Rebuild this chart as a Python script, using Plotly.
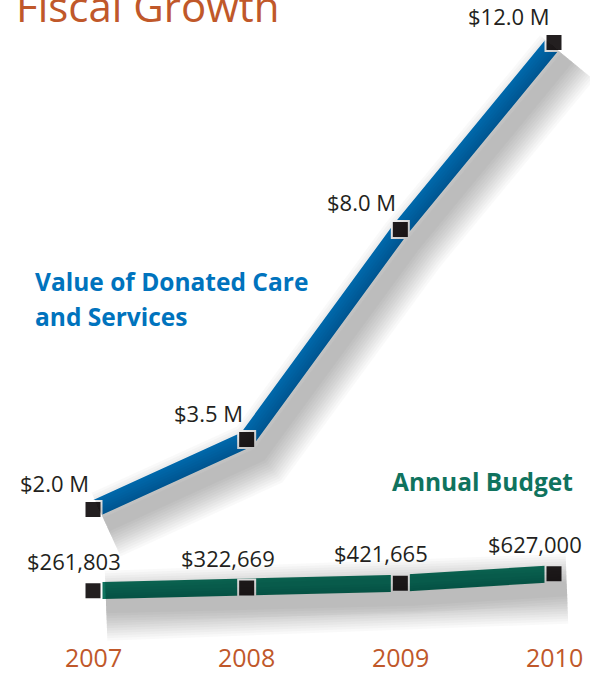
import plotly.graph_objects as go

years = [2007, 2008, 2009, 2010]
donated = [2.0e6, 3.5e6, 8.0e6, 12.0e6]
donated_labels = ["$2.0 M", "$3.5 M", "$8.0 M", "$12.0 M"]
budget = [261803, 322669, 421665, 627000]
budget_labels = ["$261,803", "$322,669", "$421,665", "$627,000"]

W, H = 590, 674
BLUE = "#0073bd"
GREEN = "#10735e"
ORANGE = "#c0582a"
INK = "#231f20"
FONT = "Open Sans"

# axis ranges chosen so 2007 sits at x=93px, 2010 at 554px, $0 at y=603px
px_per_year = (554 - 93) / 3
px_per_dollar = 467 / 10e6
xr = [2007 - 93 / px_per_year, 2007 + (W - 93) / px_per_year]
yr = [-(H - 603) / px_per_dollar, 603 / px_per_dollar]

# shadow axes: same data, shifted a few px right and down
sx, sy = 13, 15
xr2 = [xr[0] - sx / px_per_year, xr[1] - sx / px_per_year]
yr2 = [yr[0] + sy / px_per_dollar, yr[1] + sy / px_per_dollar]

fig = go.Figure()

# soft drop shadow: stacked translucent strokes
for w in range(70, 12, -5):
    for vals in [donated, budget]:
        fig.add_trace(go.Scatter(x=years, y=vals, mode="lines", xaxis="x2", yaxis="y2",
                                 line=dict(color="rgba(0,0,0,0.022)", width=w),
                                 hoverinfo="skip", showlegend=False))

fig.add_trace(go.Scatter(x=years, y=budget, mode="lines",
                         line=dict(color=GREEN, width=17), showlegend=False))
fig.add_trace(go.Scatter(x=years, y=donated, mode="lines",
                         line=dict(color=BLUE, width=17), showlegend=False))
for vals in [donated, budget]:
    fig.add_trace(go.Scatter(x=years, y=vals, mode="markers",
                             marker=dict(symbol="square", size=17, color=INK,
                                         line=dict(color="white", width=2)),
                             showlegend=False))

ann = []
for x, y, t in zip(years, donated, donated_labels):
    ann.append(dict(x=x, y=y, text=t, xref="x", yref="y", showarrow=False,
                    xanchor="right", yanchor="middle", xshift=-2, yshift=27,
                    font=dict(family=FONT, size=22, color=INK)))
for x, y, t in zip(years, budget, budget_labels):
    ann.append(dict(x=x, y=y, text=t, xref="x", yref="y", showarrow=False,
                    xanchor="center", yanchor="middle", xshift=-19, yshift=30,
                    font=dict(family=FONT, size=22, color=INK)))
for x in years:
    ann.append(dict(x=x, y=1 - 657 / H, text=str(x), xref="x", yref="paper",
                    showarrow=False, yanchor="middle",
                    font=dict(family=FONT, size=25, color=ORANGE)))

ann.append(dict(x=14 / W, y=1 - 6 / H, text="Fiscal Growth", xref="paper", yref="paper",
                showarrow=False, xanchor="left", yanchor="middle",
                font=dict(family=FONT, size=42, color=ORANGE)))
for line, py in [("Value of Donated Care", 281), ("and Services", 316)]:
    ann.append(dict(x=33 / W, y=1 - py / H, text="<b>" + line + "</b>",
                    xref="paper", yref="paper", showarrow=False, xanchor="left",
                    yanchor="middle", font=dict(family=FONT, size=24.5, color=BLUE)))
ann.append(dict(x=575 / W, y=1 - 481 / H, text="<b>Annual Budget</b>",
                xref="paper", yref="paper", showarrow=False, xanchor="right", yanchor="middle",
                font=dict(family=FONT, size=24.5, color=GREEN)))

hidden = dict(visible=False, showgrid=False, zeroline=False, fixedrange=True)
fig.update_layout(
    width=W, height=H,
    margin=dict(l=0, r=0, t=0, b=0),
    paper_bgcolor="white", plot_bgcolor="white",
    xaxis=dict(range=xr, **hidden),
    yaxis=dict(range=yr, **hidden),
    xaxis2=dict(range=xr2, overlaying="x", **hidden),
    yaxis2=dict(range=yr2, overlaying="y", **hidden),
    annotations=ann,
)

fig.write_html("out.html", config={"displayModeBar": False},
               post_script="document.body.style.margin='0px';")
